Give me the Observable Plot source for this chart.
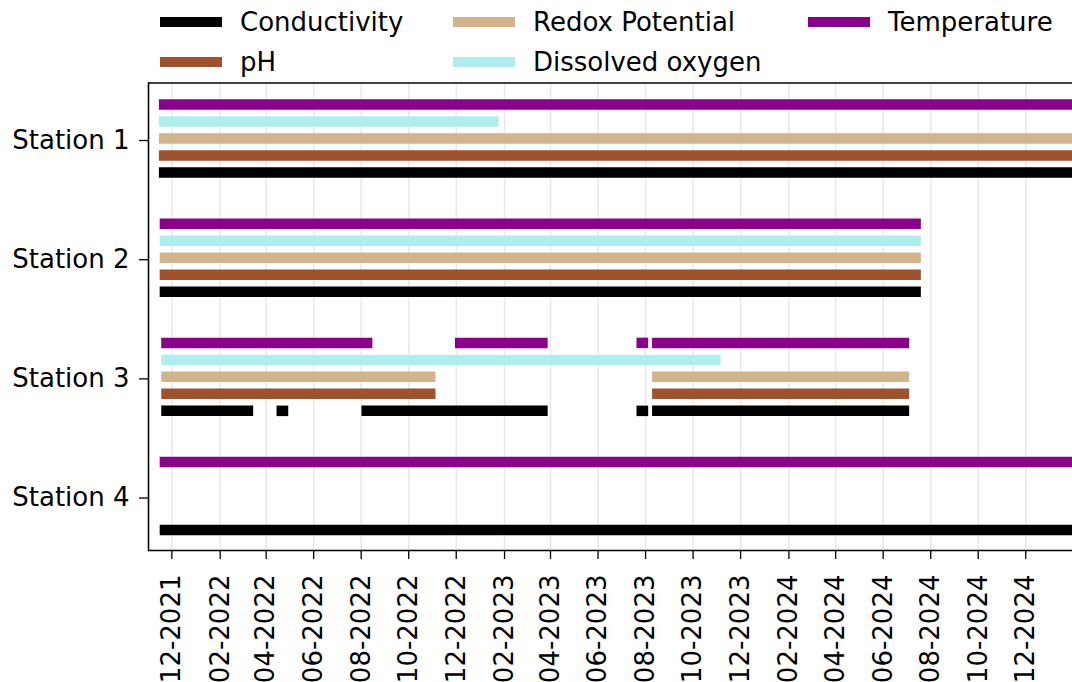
<!DOCTYPE html>
<html><head><meta charset="utf-8">
<script src="https://cdn.jsdelivr.net/npm/d3@7"></script>
<script src="https://cdn.jsdelivr.net/npm/@observablehq/plot@0.6"></script>
<style>
body{margin:0;background:#fff;font-family:"DejaVu Sans",sans-serif;}
#legend{position:relative;width:1072px;height:80px;}
.item{position:absolute;display:flex;align-items:center;height:30px;font-size:26px;color:#000;white-space:nowrap;}
.sw{width:62px;height:10px;margin-right:18px;}
</style></head><body>
<div id="legend"></div><div id="chart"></div>
<script>
// ---- data ----
const stations = ["Station 1", "Station 2", "Station 3", "Station 4"];
const parameters = ["Temperature", "Dissolved oxygen", "Redox Potential", "pH", "Conductivity"]; // top to bottom within a station
const paramColors = ["#8B008B", "#AFEEEE", "#D2B48C", "#A0522D", "#000000"];
const legendOrder = ["Conductivity", "pH", "Redox Potential", "Dissolved oxygen", "Temperature"];
const tickLabels = ["12-2021","02-2022","04-2022","06-2022","08-2022","10-2022","12-2022",
  "02-2023","04-2023","06-2023","08-2023","10-2023","12-2023",
  "02-2024","04-2024","06-2024","08-2024","10-2024","12-2024"];
const xStart = "2021-11-01", xEnd = "2025-01-30";

const station1 = [
  ["Temperature", "2021-11-15", "2025-03-01"],
  ["Dissolved oxygen", "2021-11-15", "2023-01-25"],
  ["Redox Potential", "2021-11-15", "2025-03-01"],
  ["pH", "2021-11-15", "2025-03-01"],
  ["Conductivity", "2021-11-15", "2025-03-01"]
];
const station2 = [
  ["Temperature", "2021-11-16", "2024-07-20"],
  ["Dissolved oxygen", "2021-11-16", "2024-07-20"],
  ["Redox Potential", "2021-11-16", "2024-07-20"],
  ["pH", "2021-11-16", "2024-07-20"],
  ["Conductivity", "2021-11-16", "2024-07-20"]
];
const station3 = [
  ["Temperature", "2021-11-18", "2022-08-16"],
  ["Temperature", "2022-11-30", "2023-03-29"],
  ["Temperature", "2023-07-21", "2023-08-05"],
  ["Temperature", "2023-08-10", "2024-07-05"],
  ["Dissolved oxygen", "2021-11-18", "2023-11-06"],
  ["Redox Potential", "2021-11-18", "2022-11-05"],
  ["Redox Potential", "2023-08-10", "2024-07-05"],
  ["pH", "2021-11-18", "2022-11-05"],
  ["pH", "2023-08-10", "2024-07-05"],
  ["Conductivity", "2021-11-18", "2022-03-16"],
  ["Conductivity", "2022-04-15", "2022-04-30"],
  ["Conductivity", "2022-08-02", "2023-03-29"],
  ["Conductivity", "2023-07-21", "2023-08-05"],
  ["Conductivity", "2023-08-10", "2024-07-05"]
];
const station4 = [
  ["Temperature", "2021-11-16", "2025-03-01"],
  ["Conductivity", "2021-11-16", "2025-03-01"]
];
const stationSegments = [station1, station2, station3, station4];

// ---- build table ----
const step = 0.1426; // vertical spacing between parameter rows (in station units)
const rows = [];
stationSegments.forEach((segs, si) => {
  segs.forEach(([p, s, e]) => {
    rows.push({station: stations[si], param: p,
      y: si + 1 + (parameters.indexOf(p) - 2) * step,
      start: new Date(s), end: new Date(e)});
  });
});
const tickDates = tickLabels.map(t => { const [m, y] = t.split("-"); return new Date(`${y}-${m}-01`); });
const xDomain = [new Date(xStart), new Date(xEnd)];
const yDomain = [0.534, 4.457];

// ---- legend ----
const legend = document.getElementById("legend");
const colLeft = [160, 453, 808], rowMid = [22, 62];
legendOrder.forEach((name, i) => {
  const col = Math.floor(i / 2), row = i % 2;
  const it = document.createElement("div");
  it.className = "item";
  it.style.left = colLeft[col] + "px";
  it.style.top = (rowMid[row] - 15) + "px";
  const sw = document.createElement("span");
  sw.className = "sw";
  sw.style.background = paramColors[parameters.indexOf(name)];
  const tx = document.createElement("span");
  tx.textContent = name;
  it.appendChild(sw); it.appendChild(tx);
  legend.appendChild(it);
});

// ---- chart ----
const chart = Plot.plot({
  width: 1072,
  height: 602,
  marginTop: 2.5,
  marginBottom: 132,
  marginLeft: 148,
  marginRight: 0,
  style: {fontFamily: "DejaVu Sans, sans-serif", fontSize: "26px", color: "#000", background: "#fff"},
  x: {type: "utc", domain: xDomain, label: null},
  y: {domain: yDomain, reverse: true, label: null},
  color: {domain: parameters, range: paramColors},
  marks: [
    Plot.gridX(tickDates, {stroke: "#e8e8e8", strokeOpacity: 1, strokeWidth: 1.5}),
    Plot.ruleY(rows, {y: "y", x1: "start", x2: "end", stroke: "param", strokeWidth: 10.5, clip: true}),
    Plot.axisX(tickDates, {tickFormat: d3.utcFormat("%m-%Y"), tickRotate: -90, tickSize: 9, tickPadding: 15, strokeWidth: 1.3, label: null, fontSize: 26}),
    Plot.axisY([1, 2, 3, 4], {tickFormat: d => stations[d - 1], tickSize: 9, tickPadding: 10, strokeWidth: 1.3, label: null, fontSize: 26, dy: 2}),
    Plot.ruleX([xDomain[0]], {stroke: "#000", strokeWidth: 1.6}),
    Plot.ruleY(yDomain, {stroke: "#000", strokeWidth: 1.6})
  ]
});
document.getElementById("chart").appendChild(chart);
</script></body></html>
